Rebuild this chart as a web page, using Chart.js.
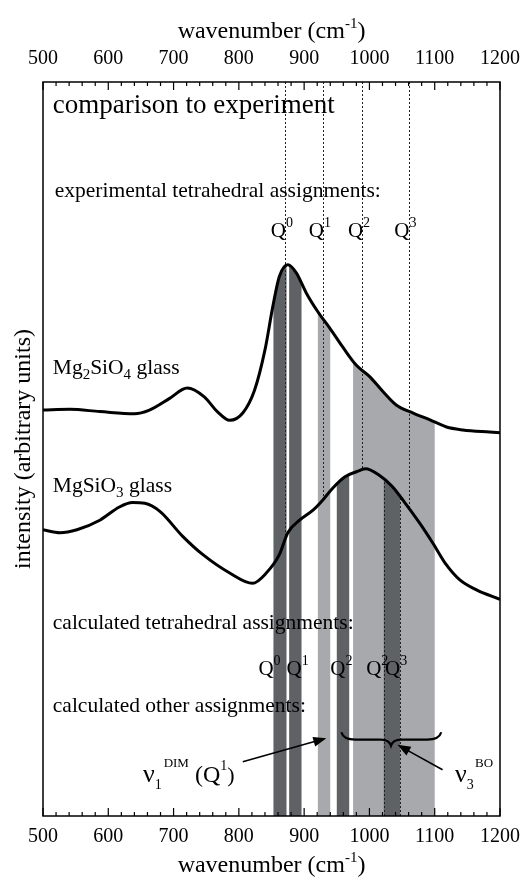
<!DOCTYPE html>
<html lang="en">
<head>
<meta charset="UTF-8">
<title>comparison to experiment</title>
<script src="https://cdn.jsdelivr.net/npm/chart.js"></script>
<style>
  html, body { margin: 0; padding: 0; background: #fff; }
  #wrap { width: 526px; height: 877px; }
</style>
</head>
<body>
<div id="wrap"><canvas id="spectra"></canvas></div>
<script>
// measured spectra (wavenumber in cm^-1, intensity in arbitrary units)
const waveMg2SiO4 = [500, 541, 587, 640, 663, 694, 721, 747, 767, 786, 806, 824, 840, 852, 862, 875, 888, 903, 921, 939, 959, 980, 1000, 1021, 1041, 1067, 1092, 1118, 1143, 1184, 1200];
const intMg2SiO4  = [55.3, 55.4, 55.1, 54.8, 55.3, 56.9, 58.3, 57.1, 55.1, 53.9, 54.9, 58.0, 63.5, 69.4, 73.5, 75.1, 74.0, 71.3, 68.7, 66.5, 63.9, 61.4, 59.9, 57.8, 56.0, 54.9, 54.0, 53.0, 52.6, 52.3, 52.2];

const waveMgSiO3 = [500, 526, 552, 587, 617, 637, 656, 679, 714, 745, 786, 821, 842, 862, 875, 893, 914, 929, 944, 962, 980, 994, 1014, 1035, 1055, 1077, 1097, 1118, 1138, 1164, 1200];
const intMgSiO3  = [39.0, 38.6, 39.0, 40.3, 42.1, 42.7, 42.6, 41.5, 38.1, 35.6, 33.1, 31.7, 33.1, 35.6, 38.6, 40.3, 41.7, 43.1, 44.7, 46.2, 46.9, 47.3, 46.5, 44.9, 42.6, 39.9, 37.2, 34.2, 32.2, 30.8, 29.5];

// experimental Q^n positions (dotted lines)
const expQ = [871, 929, 989, 1060];
const expQLabels = ['0', '1', '2', '3'];

// calculated assignment ranges [lo, hi]
const darkBandsUnderMg2SiO4  = [[853, 873], [877, 896]];
const lightBandsUnderMg2SiO4 = [[921, 940], [975, 1100]];
const darkBandsUnderMgSiO3   = [[950, 969], [1022, 1047]];

// calculated Q^n label positions
const calcQ = [847, 890, 957, 1012, 1041];
const calcQLabels = ['0', '1', '2', '2', '3'];

const xTicks = { min: 500, max: 1200, step: 20, major: 100 };

const SERIF = '"Liberation Serif", "Times New Roman", serif';
const DARK = 'rgb(95,98,101)';
const LIGHT = 'rgb(167,169,173)';
const BODY = 21.5;

function rich(ctx, x, y, parts, align) {
  let w = 0;
  parts.forEach(p => { ctx.font = p[1] + 'px ' + SERIF; w += ctx.measureText(p[0]).width; });
  let cx = align === 'center' ? x - w / 2 : x;
  ctx.textAlign = 'left';
  ctx.textBaseline = 'alphabetic';
  ctx.fillStyle = '#000';
  parts.forEach(p => {
    ctx.font = p[1] + 'px ' + SERIF;
    ctx.fillText(p[0], cx, y + (p[2] || 0));
    cx += ctx.measureText(p[0]).width;
  });
}

function arrow(ctx, x1, y1, x2, y2) {
  const a = Math.atan2(y2 - y1, x2 - x1);
  const len = 13, half = 5;
  ctx.beginPath();
  ctx.moveTo(x1, y1);
  ctx.lineTo(x2 - Math.cos(a) * len * 0.8, y2 - Math.sin(a) * len * 0.8);
  ctx.lineWidth = 1.6;
  ctx.strokeStyle = '#000';
  ctx.stroke();
  ctx.beginPath();
  ctx.moveTo(x2, y2);
  ctx.lineTo(x2 - Math.cos(a) * len - Math.sin(a) * half, y2 - Math.sin(a) * len + Math.cos(a) * half);
  ctx.lineTo(x2 - Math.cos(a) * len + Math.sin(a) * half, y2 - Math.sin(a) * len - Math.cos(a) * half);
  ctx.closePath();
  ctx.fillStyle = '#000';
  ctx.fill();
}

// clip to the region below (or above) a dataset's drawn line
function clipCurve(chart, idx, below) {
  const ctx = chart.ctx;
  const line = chart.getDatasetMeta(idx).dataset;
  const { left, right, top, bottom } = chart.chartArea;
  const edge = below ? bottom : top;
  ctx.beginPath();
  line.path(ctx);
  ctx.lineTo(right, edge);
  ctx.lineTo(left, edge);
  ctx.closePath();
  ctx.clip();
}

const decorations = {
  id: 'decorations',
  beforeDatasetsDraw(chart) {
    const ctx = chart.ctx;
    const x = chart.scales.x;
    const { top, bottom } = chart.chartArea;

    const fillBands = (bands, idx, color) => {
      ctx.save();
      clipCurve(chart, idx, true);
      ctx.fillStyle = color;
      bands.forEach(b => {
        const x0 = x.getPixelForValue(b[0]), x1 = x.getPixelForValue(b[1]);
        ctx.fillRect(x0, top, x1 - x0, bottom - top);
      });
      ctx.restore();
    };
    fillBands(darkBandsUnderMg2SiO4, 0, DARK);
    fillBands(lightBandsUnderMg2SiO4, 0, LIGHT);
    fillBands(darkBandsUnderMgSiO3, 1, DARK);

    ctx.save();
    ctx.lineWidth = 1;
    ctx.strokeStyle = '#222';
    ctx.setLineDash([2, 2]);

    // experimental lines: from the top down to the MgSiO3 curve
    ctx.save();
    clipCurve(chart, 1, false);
    expQ.forEach(v => {
      const px = Math.round(x.getPixelForValue(v)) + 0.5;
      ctx.beginPath(); ctx.moveTo(px, top); ctx.lineTo(px, bottom); ctx.stroke();
    });
    ctx.restore();

    // edges of the calculated nu3 BO band, below the MgSiO3 curve
    ctx.save();
    clipCurve(chart, 1, true);
    darkBandsUnderMgSiO3[1].forEach(v => {
      const px = Math.round(x.getPixelForValue(v)) + 0.5;
      ctx.beginPath(); ctx.moveTo(px, top); ctx.lineTo(px, bottom); ctx.stroke();
    });
    ctx.restore();
    ctx.restore();
  },
  afterDatasetsDraw(chart) {
    const ctx = chart.ctx;
    const x = chart.scales.x, y = chart.scales.y;
    const { left, right, top, bottom } = chart.chartArea;
    const X = v => x.getPixelForValue(v);
    const Y = v => y.getPixelForValue(v);

    ctx.save();
    // frame and inward ticks
    ctx.strokeStyle = '#000';
    ctx.lineWidth = 1.5;
    ctx.strokeRect(left, top, right - left, bottom - top);
    ctx.lineWidth = 1.2;
    x.ticks.forEach(t => {
      const px = X(t.value);
      const len = t.value % xTicks.major === 0 ? 8 : 4;
      ctx.beginPath();
      ctx.moveTo(px, bottom); ctx.lineTo(px, bottom - len);
      ctx.moveTo(px, top); ctx.lineTo(px, top + len);
      ctx.stroke();
    });

    // axis titles with superscript
    const cx = (left + right) / 2;
    const title = [['wavenumber (cm', 24], ['-1', 15, -10], [')', 24]];
    rich(ctx, cx, 38, title, 'center');
    rich(ctx, cx, 872, title, 'center');

    // annotations
    rich(ctx, X(515), Y(95.8), [['comparison to experiment', 27]]);
    rich(ctx, X(518), Y(84.3), [['experimental tetrahedral assignments:', BODY]]);
    expQ.forEach((v, i) => {
      rich(ctx, X(v - 5), Y(78.9), [['Q', 21], [expQLabels[i], 14, -10]], 'center');
    });
    rich(ctx, X(515), Y(60.2), [['Mg', BODY], ['2', 15, 5], ['SiO', BODY], ['4', 15, 5], [' glass', BODY]]);
    rich(ctx, X(515), Y(44.1), [['MgSiO', BODY], ['3', 15, 5], [' glass', BODY]]);
    rich(ctx, X(515), Y(25.5), [['calculated tetrahedral assignments:', BODY]]);
    calcQ.forEach((v, i) => {
      rich(ctx, X(v), Y(19.2), [['Q', 21], [calcQLabels[i], 14, -10]], 'center');
    });
    rich(ctx, X(515), Y(14.2), [['calculated other assignments:', BODY]]);

    rich(ctx, X(653), Y(4.6), [['\u03bd', 26], ['1', 14, 7], [' ', 8], ['DIM', 13, -15], [' (Q', 24], ['1', 14, -12], [')', 22]]);
    rich(ctx, X(1131), Y(4.6), [['\u03bd', 26], ['3', 14, 7], [' ', 5], ['BO', 13, -15]]);

    arrow(ctx, X(806), Y(7.4), X(934), Y(10.6));
    arrow(ctx, X(1112), Y(6.3), X(1043), Y(9.7));

    // curly brace over the nu3 BO range
    const b0 = X(957), b1 = X(1110), bm = X(1033);
    const yEnd = Y(11.4), yMid = Y(10.4), yTip = Y(9.6);
    ctx.beginPath();
    ctx.moveTo(b0, yEnd);
    ctx.quadraticCurveTo(b0 + 2, yMid, b0 + 14, yMid);
    ctx.lineTo(bm - 10, yMid);
    ctx.quadraticCurveTo(bm - 2, yMid, bm, yTip);
    ctx.quadraticCurveTo(bm + 2, yMid, bm + 10, yMid);
    ctx.lineTo(b1 - 14, yMid);
    ctx.quadraticCurveTo(b1 - 2, yMid, b1, yEnd);
    ctx.lineWidth = 2.2;
    ctx.setLineDash([]);
    ctx.stroke();
    ctx.restore();
  }
};

const pts = (xs, ys) => xs.map((v, i) => ({ x: v, y: ys[i] }));

const tickLabel = v => (v % xTicks.major === 0 ? String(v) : '');
const axisX = (position, height, pad) => ({
  type: 'linear',
  position,
  min: xTicks.min,
  max: xTicks.max,
  grid: { display: false, drawTicks: false },
  border: { display: false },
  ticks: {
    stepSize: xTicks.step,
    autoSkip: false,
    maxRotation: 0,
    padding: pad,
    color: '#000',
    font: { family: SERIF, size: 20 },
    callback: tickLabel
  },
  afterFit(s) { s.height = height; s.paddingLeft = 0; s.paddingRight = 0; }
});

new Chart(document.getElementById('spectra'), {
  type: 'line',
  data: {
    datasets: [
      { label: 'Mg2SiO4 glass', data: pts(waveMg2SiO4, intMg2SiO4) },
      { label: 'MgSiO3 glass', data: pts(waveMgSiO3, intMgSiO3) }
    ]
  },
  options: {
    responsive: true,
    maintainAspectRatio: false,
    animation: false,
    layout: { padding: { right: 26 } },
    elements: {
      line: { borderColor: '#000', borderWidth: 3, cubicInterpolationMode: 'monotone', fill: false },
      point: { radius: 0 }
    },
    plugins: { legend: { display: false }, tooltip: { enabled: false } },
    scales: {
      x: axisX('bottom', 61, 9),
      x2: axisX('top', 82, 11),
      y: {
        min: 0,
        max: 100,
        grid: { display: false, drawTicks: false },
        border: { display: false },
        ticks: { display: false },
        title: {
          display: true,
          text: 'intensity (arbitrary units)',
          color: '#000',
          font: { family: SERIF, size: 24 },
          padding: { top: 9, bottom: 0 }
        },
        afterFit(s) { s.width = 43; }
      }
    }
  },
  plugins: [decorations]
});
</script>
</body>
</html>
